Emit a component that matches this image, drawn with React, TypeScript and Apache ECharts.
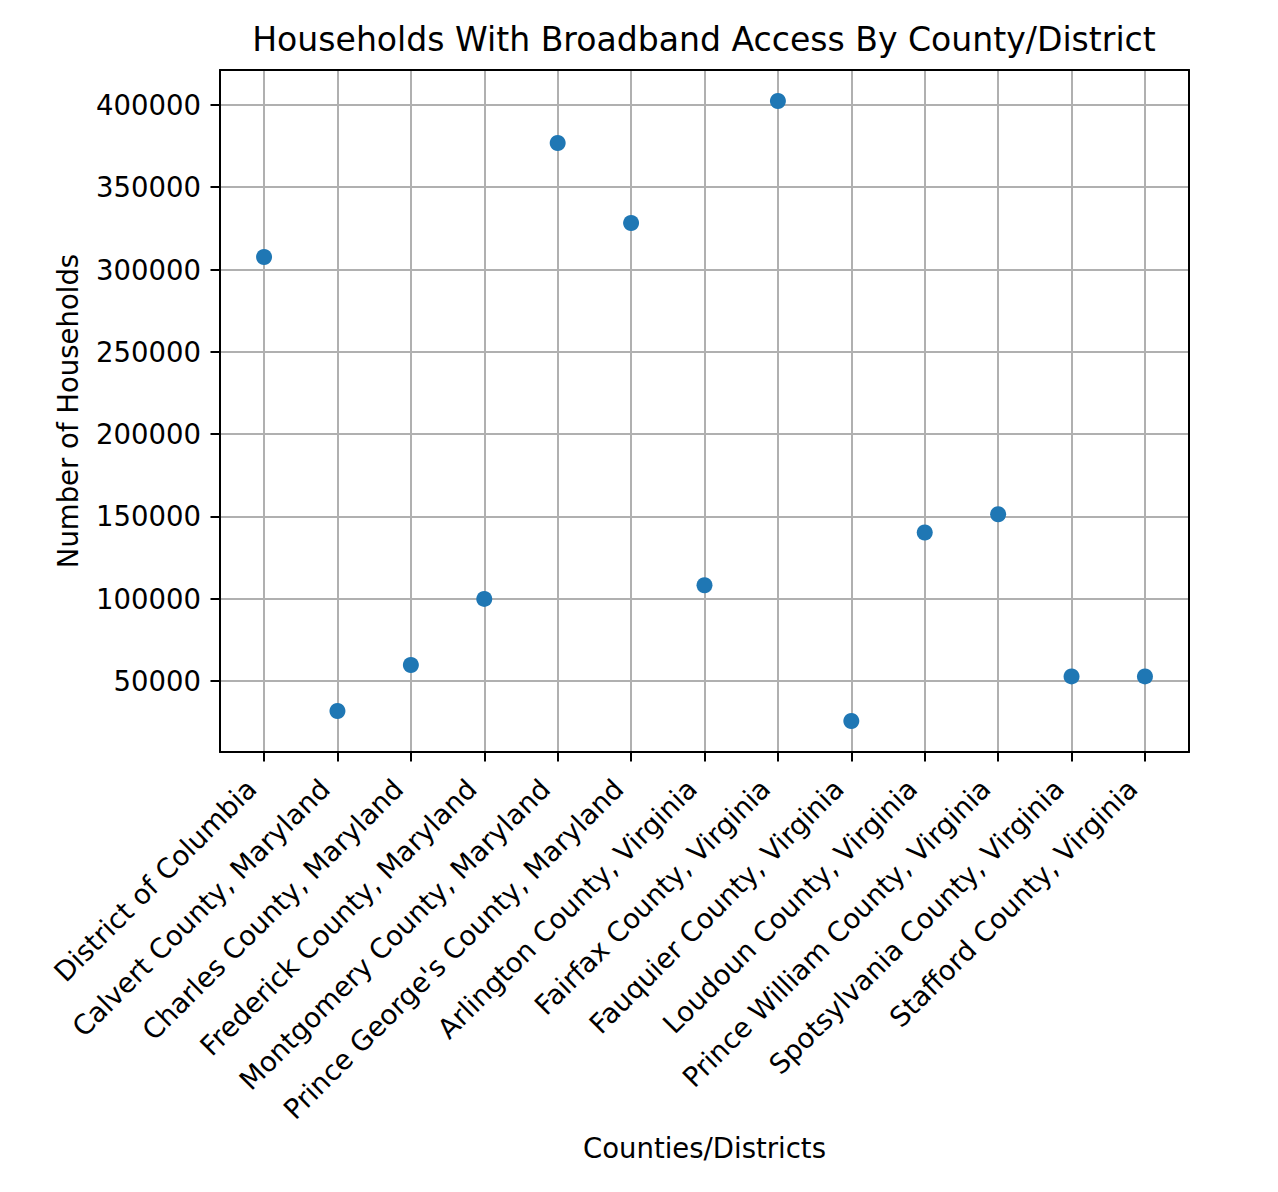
import React, { useEffect, useRef } from "react";
import * as echarts from "echarts";

const categories = [
  "District of Columbia",
  "Calvert County, Maryland",
  "Charles County, Maryland",
  "Frederick County, Maryland",
  "Montgomery County, Maryland",
  "Prince George's County, Maryland",
  "Arlington County, Virginia",
  "Fairfax County, Virginia",
  "Fauquier County, Virginia",
  "Loudoun County, Virginia",
  "Prince William County, Virginia",
  "Spotsylvania County, Virginia",
  "Stafford County, Virginia",
];

const households = [
  307600, 31800, 59700, 99900, 376900, 328300, 108200, 402400, 25700, 140200,
  151300, 52800, 52800,
];

const yTicks = [50000, 100000, 150000, 200000, 250000, 300000, 350000, 400000];
const xTicks = categories.map((_, i) => i);

const titleText = "Households With Broadband Access By County/District";
const xName = "Counties/Districts";
const yName = "Number of Households";

const FONT = "DejaVu Sans";

export default function App() {
  const ref = useRef<HTMLDivElement>(null);

  useEffect(() => {
    if (!ref.current) return;
    const chart = echarts.init(ref.current, null, { renderer: "svg" });

    const n = categories.length;
    const yMinData = Math.min(...households);
    const yMaxData = Math.max(...households);
    const yPad = (yMaxData - yMinData) * 0.05;
    const xPad = (n - 1) * 0.05;

    const grid = { left: 220, right: 89, top: 70, bottom: 440 };

    chart.setOption({
      animation: false,
      backgroundColor: "#ffffff",
      title: {
        text: titleText,
        left: 699,
        top: 18,
        textAlign: "center",
        textStyle: {
          fontFamily: FONT,
          fontSize: 33.1,
          fontWeight: "normal",
          color: "#000",
        },
      },
      grid: { ...grid, show: false },
      xAxis: [
        {
          type: "value",
          min: -xPad,
          max: n - 1 + xPad,
          minInterval: 1,
          maxInterval: 1,
          name: xName,
          nameLocation: "middle",
          nameGap: 382,
          nameTextStyle: { fontFamily: FONT, fontSize: 27.5, color: "#000" },
          axisLine: { show: true, onZero: false, lineStyle: { color: "#000", width: 2 } },
          axisTick: {
            show: true,
            length: 9.5,
            lineStyle: { color: "#000", width: 2 },
            customValues: xTicks,
          },
          axisLabel: {
            show: true,
            rotate: 45,
            margin: 19,
            padding: [0, 18, 0, 0],
            fontFamily: FONT,
            fontSize: 27.5,
            color: "#000",
            customValues: xTicks,
            formatter: (v: number) =>
              Number.isInteger(v) && v >= 0 && v < n ? categories[v] : "",
            hideOverlap: false,
          },
          splitLine: { show: true, lineStyle: { color: "#b0b0b0", width: 2 } },
        },
        {
          type: "value",
          position: "top",
          min: -xPad,
          max: n - 1 + xPad,
          axisLine: { show: true, onZero: false, lineStyle: { color: "#000", width: 2 } },
          axisTick: { show: false },
          axisLabel: { show: false },
          splitLine: { show: false },
        },
      ],
      yAxis: [
        {
          type: "value",
          min: yMinData - yPad,
          max: yMaxData + yPad,
          minInterval: 50000,
          maxInterval: 50000,
          name: yName,
          nameLocation: "middle",
          nameGap: 138,
          nameRotate: 90,
          nameTextStyle: { fontFamily: FONT, fontSize: 27.5, color: "#000" },
          axisLine: { show: true, onZero: false, lineStyle: { color: "#000", width: 2 } },
          axisTick: {
            show: true,
            length: 9.5,
            lineStyle: { color: "#000", width: 2 },
            customValues: yTicks,
          },
          axisLabel: {
            show: true,
            margin: 19,
            fontFamily: FONT,
            fontSize: 27.5,
            color: "#000",
            customValues: yTicks,
            formatter: (v: number) => String(v),
          },
          splitLine: { show: true, lineStyle: { color: "#b0b0b0", width: 2 } },
        },
        {
          type: "value",
          position: "right",
          min: yMinData - yPad,
          max: yMaxData + yPad,
          axisLine: { show: true, onZero: false, lineStyle: { color: "#000", width: 2 } },
          axisTick: { show: false },
          axisLabel: { show: false },
          splitLine: { show: false },
        },
      ],
      series: [
        {
          type: "scatter",
          xAxisIndex: 0,
          yAxisIndex: 0,
          symbol: "circle",
          symbolSize: 16,
          itemStyle: { color: "#1f77b4", opacity: 1 },
          data: households.map((v, i) => [i, v]),
          z: 10,
        },
      ],
    });

    return () => chart.dispose();
  }, []);

  return (
    <div
      ref={ref}
      style={{ position: "absolute", left: 0, top: 0, width: 1278, height: 1192 }}
    />
  );
}
